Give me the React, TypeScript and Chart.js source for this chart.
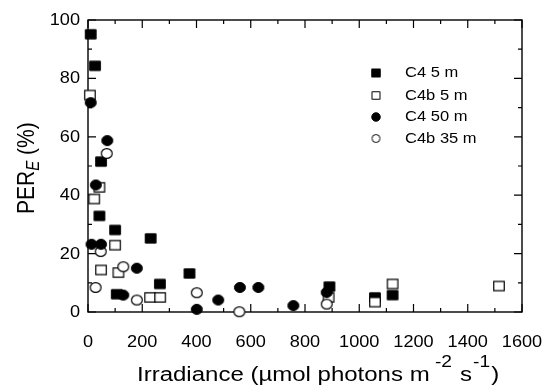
import React, { useEffect, useRef } from "react";
import { Chart, registerables } from "chart.js";
Chart.register(...registerables);

const seriesNames = ["C4 5 m", "C4b 5 m", "C4 50 m", "C4b 35 m"];

const c4_5m_x = [10, 26, 48, 42, 100, 231, 374, 106, 265, 890, 1058, 1123];
const c4_5m_y = [95.1, 84.3, 51.5, 32.9, 28.1, 25.2, 13.2, 6.1, 9.6, 8.7, 5.0, 5.8];

const c4b_5m_x = [7, 42, 23, 100, 48, 112, 229, 266, 887, 1058, 1123, 1515];
const c4b_5m_y = [74.3, 42.7, 38.7, 22.9, 14.4, 13.5, 5.0, 5.0, 5.0, 3.4, 9.6, 8.9];

const c4_50m_x = [10, 71, 29, 13, 48, 180, 130, 401, 480, 560, 628, 757, 880];
const c4_50m_y = [71.7, 58.7, 43.5, 23.2, 23.2, 15.0, 5.8, 0.9, 4.1, 8.4, 8.4, 2.2, 6.7];

const c4b_35m_x = [69, 47, 130, 28, 180, 401, 558, 880];
const c4b_35m_y = [54.3, 20.7, 15.5, 8.4, 4.1, 6.6, 0.1, 2.7];

const xTickLabels = ["0", "200", "400", "600", "800", "1000", "1200", "1400", "1600"];
const yTickLabels = ["0", "20", "40", "60", "80", "100"];

const FONT = '"Liberation Sans", Arial, sans-serif';

function makeMarker(shape: string, filled: boolean, w: number, h: number, lw: number) {
  const c = document.createElement("canvas");
  c.width = Math.ceil(w + 2);
  c.height = Math.ceil(h + 2);
  const ctx = c.getContext("2d")!;
  const cx = c.width / 2, cy = c.height / 2;
  ctx.beginPath();
  if (shape === "square") ctx.rect(cx - (w - lw) / 2, cy - (h - lw) / 2, w - lw, h - lw);
  else ctx.ellipse(cx, cy, (w - lw) / 2, (h - lw) / 2, 0, 0, Math.PI * 2);
  ctx.fillStyle = filled ? "#000" : "#fff";
  ctx.fill();
  ctx.lineWidth = lw;
  ctx.strokeStyle = "#000";
  ctx.stroke();
  return c;
}

function pts(xs: number[], ys: number[]) {
  return xs.map((x, i) => ({ x, y: ys[i] }));
}

function drawText(ctx: CanvasRenderingContext2D, text: string, x: number, y: number, font: string, sx: number, align: CanvasTextAlign, base: CanvasTextBaseline) {
  ctx.save();
  ctx.translate(x, y);
  ctx.scale(sx, 1);
  ctx.font = font;
  ctx.textAlign = align;
  ctx.textBaseline = base;
  ctx.fillText(text, 0, 0);
  ctx.restore();
}

const decorPlugin = {
  id: "decor",
  beforeDatasetsDraw(chart: any) {
    const { ctx, chartArea: a, scales } = chart;
    const xs = scales.x, ys = scales.y;
    ctx.save();
    ctx.strokeStyle = "#000";
    ctx.lineWidth = 1.4;
    ctx.strokeRect(a.left, a.top, a.right - a.left, a.bottom - a.top);
    ctx.lineWidth = 1.2;
    ctx.beginPath();
    for (let v = 0; v <= 1600; v += 100) {
      const px = xs.getPixelForValue(v);
      const len = v % 200 === 0 ? 8 : 4;
      ctx.moveTo(px, a.bottom); ctx.lineTo(px, a.bottom - len);
      ctx.moveTo(px, a.top); ctx.lineTo(px, a.top + len);
    }
    for (let v = 0; v <= 100; v += 10) {
      const py = ys.getPixelForValue(v);
      const len = v % 20 === 0 ? 8 : 4;
      ctx.moveTo(a.left, py); ctx.lineTo(a.left + len, py);
      ctx.moveTo(a.right, py); ctx.lineTo(a.right - len, py);
    }
    ctx.stroke();
    ctx.fillStyle = "#000";
    const tf = `16.5px ${FONT}`;
    xTickLabels.forEach((l) => {
      drawText(ctx, l, xs.getPixelForValue(Number(l)), a.bottom + 35, tf, 1.1, "center", "alphabetic");
    });
    yTickLabels.forEach((l) => {
      drawText(ctx, l, a.left - 8, ys.getPixelForValue(Number(l)) + 0.5, tf, 1.1, "right", "middle");
    });
    ctx.restore();
  },
  afterDraw(chart: any) {
    const { ctx, chartArea: a } = chart;
    ctx.save();
    ctx.fillStyle = "#000";
    // x title
    ctx.save();
    ctx.translate(137, 380.5);
    ctx.scale(1.2, 1);
    ctx.textBaseline = "alphabetic";
    ctx.textAlign = "left";
    let x = 0;
    const big = `20px ${FONT}`, sup = `16px ${FONT}`;
    const pieces: [string, string, number, number][] = [
      ["Irradiance (\u00b5mol photons m", big, 0, 0],
      [" -2", sup, -14, 0],
      [" s", big, 0, 1],
      ["-1", sup, -14, 1],
      [")", big, 0, 1],
    ];
    for (const [t, f, dy, gap] of pieces) {
      x += gap;
      ctx.font = f;
      ctx.fillText(t, x, dy);
      x += ctx.measureText(t).width;
    }
    ctx.restore();
    // y title
    ctx.save();
    ctx.translate(34, 214);
    ctx.scale(1.18, 1);
    ctx.rotate(-Math.PI / 2);
    ctx.textAlign = "left";
    ctx.textBaseline = "alphabetic";
    let yx = 0;
    const ypieces: [string, string, number][] = [
      ["PER", `21px ${FONT}`, 0],
      ["E", `italic 15px ${FONT}`, 4],
      [" (%)", `21px ${FONT}`, 0],
    ];
    for (const [t, f, dy] of ypieces) {
      ctx.font = f;
      ctx.fillText(t, yx, dy);
      yx += ctx.measureText(t).width;
    }
    ctx.restore();
    // legend
    const lx = a.left + 288;
    const ly = [a.top + 53, a.top + 75.5, a.top + 97, a.top + 118.5];
    const markers = [
      makeMarker("square", true, 9.5, 9, 1),
      makeMarker("square", false, 9, 8.5, 1),
      makeMarker("circle", true, 9.5, 9.5, 1),
      makeMarker("circle", false, 9, 9, 1),
    ];
    seriesNames.forEach((n, i) => {
      const m = markers[i];
      ctx.drawImage(m, lx - m.width / 2, ly[i] - m.height / 2);
      drawText(ctx, n, lx + 29, ly[i] + 0.5, `14px ${FONT}`, 1.18, "left", "middle");
    });
    ctx.restore();
  },
};

export default function App() {
  const ref = useRef<HTMLCanvasElement>(null);
  useEffect(() => {
    const canvas = ref.current!;
    const fSq = makeMarker("square", true, 11.7, 10.3, 1);
    const oSq = makeMarker("square", false, 11.7, 10.3, 1.2);
    const fCi = makeMarker("circle", true, 12, 11, 1);
    const oCi = makeMarker("circle", false, 12, 11, 1.2);
    const chart = new Chart(canvas, {
      type: "scatter",
      data: {
        datasets: [
          { label: seriesNames[0], data: pts(c4_5m_x, c4_5m_y), pointStyle: fSq as any, order: 4, clip: false as any },
          { label: seriesNames[1], data: pts(c4b_5m_x, c4b_5m_y), pointStyle: oSq as any, order: 3, clip: false as any },
          { label: seriesNames[2], data: pts(c4_50m_x, c4_50m_y), pointStyle: fCi as any, order: 1, clip: false as any },
          { label: seriesNames[3], data: pts(c4b_35m_x, c4b_35m_y), pointStyle: oCi as any, order: 2, clip: false as any },
        ],
      },
      options: {
        animation: false,
        responsive: false,
        devicePixelRatio: 1,
        layout: { padding: { left: 88, right: 27, top: 20, bottom: 76 } },
        plugins: { legend: { display: false }, tooltip: { enabled: false } },
        scales: {
          x: { type: "linear", min: 0, max: 1600, display: false },
          y: { type: "linear", min: 0, max: 100, display: false },
        },
      },
      plugins: [decorPlugin],
    });
    return () => chart.destroy();
  }, []);
  return (
    <div style={{ position: "absolute", left: 0, top: 0, width: 549, height: 388, background: "#fff" }}>
      <canvas ref={ref} width={549} height={388} />
    </div>
  );
}
